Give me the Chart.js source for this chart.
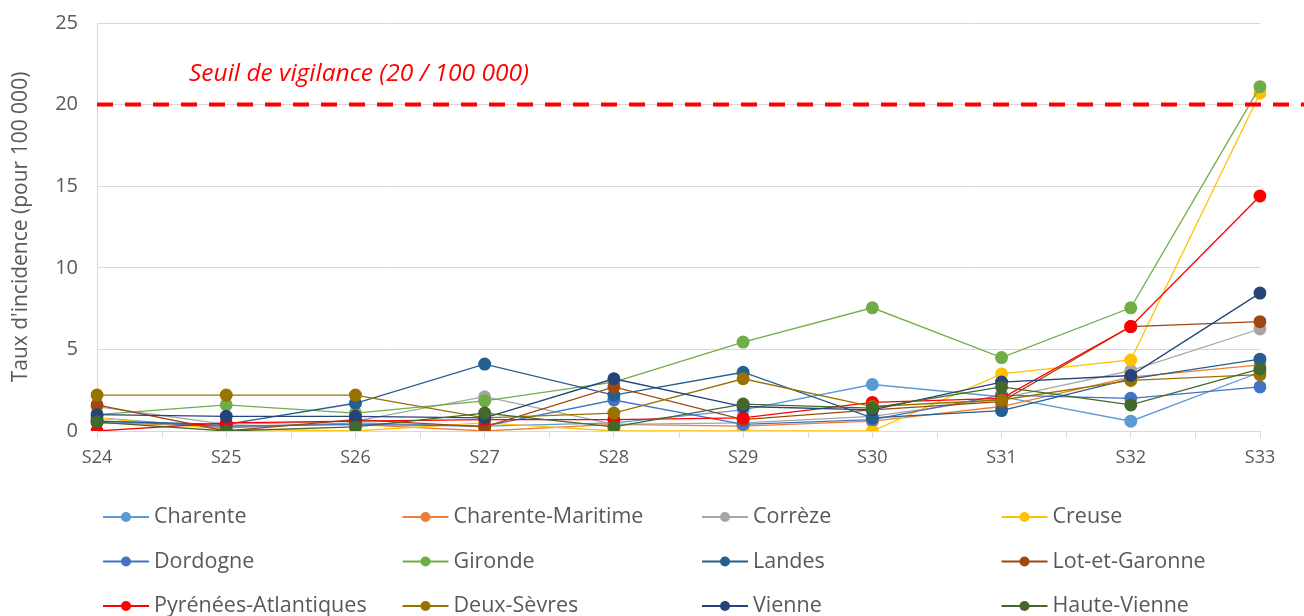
<!DOCTYPE html>
<html lang="fr">
<head>
<meta charset="utf-8">
<title>Taux d'incidence hebdomadaire par département</title>
<script src="https://cdn.jsdelivr.net/npm/chart.js@4.4.1/dist/chart.umd.min.js"></script>
<style>
  html, body { margin: 0; padding: 0; background: #ffffff; }
  #wrap { width: 1304px; height: 616px; position: relative; }
</style>
</head>
<body>
<div id="wrap"><canvas id="chart" width="1304" height="616"></canvas></div>
<script>
// Semaines
const weeks = ['S24', 'S25', 'S26', 'S27', 'S28', 'S29', 'S30', 'S31', 'S32', 'S33'];

// Taux d'incidence pour 100 000 habitants, par département
const charente           = [0.8, 0.2, 0.5, 0.3, 0.5, 1.3, 2.85, 2.1, 0.6, 3.6];
const charenteMaritime   = [0.5, 0.3, 0.4, 0.0, 0.4, 0.3, 0.6, 1.5, 3.3, 4.05];
const correze            = [1.5, 0.4, 0.6, 2.1, 0.4, 0.5, 0.9, 2.0, 3.7, 6.25];
const creuse             = [0.8, 0.1, 0.0, 0.5, 0.0, 0.0, 0.0, 3.5, 4.35, 20.7];
const dordogne           = [0.6, 0.3, 0.4, 0.3, 1.9, 0.4, 0.7, 2.2, 2.0, 2.7];
const gironde            = [1.0, 1.6, 1.1, 1.85, 3.0, 5.45, 7.55, 4.5, 7.55, 21.1];
const landes             = [0.6, 0.4, 1.7, 4.1, 2.2, 3.6, 0.8, 1.25, 3.2, 4.4];
const lotEtGaronne       = [1.6, 0.0, 0.7, 0.25, 2.7, 0.7, 1.3, 1.8, 6.4, 6.7];
const pyreneesAtlantiques= [0.0, 0.5, 0.6, 0.7, 0.7, 0.8, 1.75, 2.0, 6.4, 14.4];
const deuxSevres         = [2.2, 2.2, 2.2, 0.8, 1.1, 3.2, 1.5, 1.9, 3.1, 3.45];
const vienne             = [1.0, 0.9, 0.9, 0.8, 3.2, 1.5, 1.3, 3.0, 3.4, 8.45];
const hauteVienne        = [0.55, 0.0, 0.25, 1.1, 0.25, 1.65, 1.4, 2.7, 1.6, 3.8];

// Seuil de vigilance
const seuil = 20;
const seuilLabel = 'Seuil de vigilance (20 / 100 000)';

// Axe des ordonnées
const yMin = 0, yMax = 25, yStep = 5;
const yTitle = "Taux d'incidence (pour 100 000)";

const series = [
  { label: 'Charente',             data: charente,            color: '#5B9BD5' },
  { label: 'Charente-Maritime',    data: charenteMaritime,    color: '#ED7D31' },
  { label: 'Corrèze',              data: correze,             color: '#A5A5A5' },
  { label: 'Creuse',               data: creuse,              color: '#FFC000' },
  { label: 'Dordogne',             data: dordogne,            color: '#4472C4' },
  { label: 'Gironde',              data: gironde,             color: '#70AD47' },
  { label: 'Landes',               data: landes,              color: '#255E91' },
  { label: 'Lot-et-Garonne',       data: lotEtGaronne,        color: '#9E480E' },
  { label: 'Pyrénées-Atlantiques', data: pyreneesAtlantiques, color: '#FF0000' },
  { label: 'Deux-Sèvres',          data: deuxSevres,          color: '#997300' },
  { label: 'Vienne',               data: vienne,              color: '#264478' },
  { label: 'Haute-Vienne',         data: hauteVienne,         color: '#43682B' }
];

const FONT = "'Open Sans', 'Liberation Sans', sans-serif";
const TEXT_GREY = '#595959';
const GRID_GREY = '#D9D9D9';

// Petites graduations intermédiaires sur l'axe des abscisses
const midTicks = {
  id: 'midTicks',
  afterDraw(chart) {
    const { ctx, scales: { x }, chartArea } = chart;
    ctx.save();
    ctx.strokeStyle = GRID_GREY;
    ctx.lineWidth = 1;
    for (let i = 0; i < weeks.length - 1; i++) {
      const px = Math.round((x.getPixelForValue(i) + x.getPixelForValue(i + 1)) / 2) + 0.5;
      ctx.beginPath();
      ctx.moveTo(px, chartArea.bottom);
      ctx.lineTo(px, chartArea.bottom + 7);
      ctx.stroke();
    }
    ctx.restore();
  }
};

// Ligne de seuil en pointillés et son libellé
const seuilLine = {
  id: 'seuilLine',
  afterDatasetsDraw(chart) {
    const { ctx, scales: { y }, chartArea } = chart;
    const py = y.getPixelForValue(seuil);
    ctx.save();
    ctx.strokeStyle = '#FF0000';
    ctx.lineWidth = 4;
    ctx.setLineDash([16, 12]);
    ctx.beginPath();
    ctx.moveTo(chartArea.left, py);
    ctx.lineTo(chart.width, py);
    ctx.stroke();
    ctx.setLineDash([]);
    ctx.fillStyle = '#FF0000';
    ctx.font = `italic 24.5px ${FONT}`;
    ctx.textBaseline = 'middle';
    ctx.textAlign = 'left';
    ctx.fillText(seuilLabel, 189, py - 31);
    ctx.restore();
  }
};

// Légende en grille de 4 colonnes
const gridLegend = {
  id: 'gridLegend',
  afterDraw(chart) {
    const { ctx } = chart;
    const x0 = 103, colW = 299.5, y0 = 517, rowH = 44.5, sample = 46;
    ctx.save();
    ctx.font = `21.5px ${FONT}`;
    ctx.textBaseline = 'middle';
    ctx.textAlign = 'left';
    series.forEach((s, i) => {
      const cx = x0 + (i % 4) * colW;
      const cy = y0 + Math.floor(i / 4) * rowH;
      ctx.strokeStyle = s.color;
      ctx.lineWidth = 2;
      ctx.beginPath();
      ctx.moveTo(cx, cy);
      ctx.lineTo(cx + sample, cy);
      ctx.stroke();
      ctx.fillStyle = s.color;
      ctx.beginPath();
      ctx.arc(cx + sample / 2, cy, 5, 0, Math.PI * 2);
      ctx.fill();
      ctx.fillStyle = TEXT_GREY;
      ctx.fillText(s.label, cx + sample + 5, cy);
    });
    ctx.restore();
  }
};

new Chart(document.getElementById('chart'), {
  type: 'line',
  data: {
    labels: weeks,
    datasets: series.map((s, i) => ({
      label: s.label,
      data: s.data,
      borderColor: s.color,
      backgroundColor: s.color,
      pointBackgroundColor: s.color,
      pointBorderColor: s.color,
      borderWidth: 1.3,
      pointRadius: 6.5,
      pointBorderWidth: 0,
      pointHoverRadius: 6.5,
      tension: 0,
      fill: false,
      order: series.length - i
    }))
  },
  options: {
    responsive: false,
    animation: false,
    events: [],
    layout: { autoPadding: false, padding: { top: 23, right: 44, bottom: 0, left: 0 } },
    plugins: {
      legend: { display: false },
      tooltip: { enabled: false },
      title: { display: false }
    },
    scales: {
      x: {
        type: 'category',
        offset: false,
        grid: {
          display: true,
          drawOnChartArea: false,
          drawTicks: true,
          tickLength: 7,
          color: GRID_GREY
        },
        border: { display: true, color: GRID_GREY, width: 1 },
        ticks: {
          color: TEXT_GREY,
          font: { family: FONT, size: 18 },
          padding: 9,
          maxRotation: 0,
          autoSkip: false
        },
        afterFit(scale) { scale.height = 185; }
      },
      y: {
        min: yMin,
        max: yMax,
        ticks: {
          stepSize: yStep,
          color: TEXT_GREY,
          font: { family: FONT, size: 20 },
          padding: 19
        },
        grid: { color: GRID_GREY, drawTicks: false, lineWidth: 1 },
        border: { display: true, color: GRID_GREY, width: 1 },
        title: {
          display: true,
          text: yTitle,
          color: TEXT_GREY,
          font: { family: FONT, size: 21 },
          padding: { top: 8, bottom: 0 }
        },
        afterFit(scale) {
          scale.width = 97;
          scale.paddingTop = 0;
          scale.paddingBottom = 0;
        }
      }
    }
  },
  plugins: [midTicks, seuilLine, gridLegend]
});
</script>
</body>
</html>
